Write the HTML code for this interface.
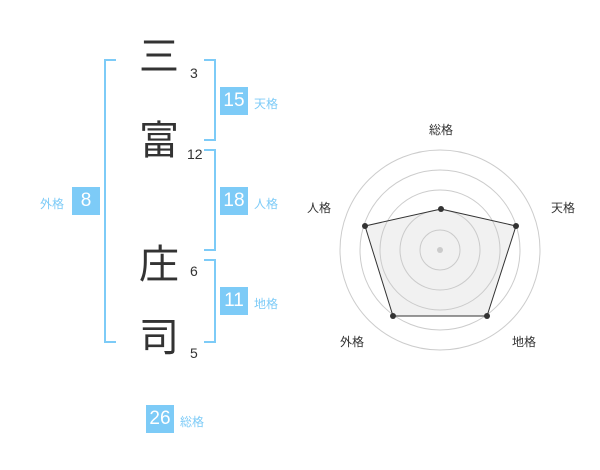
<!DOCTYPE html><html><head><meta charset="utf-8"><style>
body{margin:0;width:600px;height:470px;background:#fff;position:relative;font-family:"Liberation Sans","Noto Sans CJK JP",sans-serif;overflow:hidden}
.a{position:absolute}
.c{font-size:40px;color:#333;left:138px;width:42px;text-align:center;line-height:42px}
.n{font-size:14px;color:#333;left:187px}
.b{background:#7dcbf7;color:#fff;font-size:19px;width:28px;height:28px;line-height:28px;text-align:center}
.l{font-size:12px;color:#7dcbf7}
.br{border:2px solid #7dcbf7}
</style></head><body>
<div class="a c" style="top:36px">三</div>
<div class="a c" style="top:120px">富</div>
<div class="a c" style="top:244px">庄</div>
<div class="a c" style="top:317px">司</div>
<div class="a n" style="top:65px;left:190px">3</div>
<div class="a n" style="top:146px">12</div>
<div class="a n" style="top:263px;left:190px">6</div>
<div class="a n" style="top:345px;left:190px">5</div>
<div class="a br" style="left:104px;top:59px;width:10px;height:280px;border-right:none"></div>
<div class="a br" style="left:204px;top:59px;width:10px;height:78px;border-left:none"></div>
<div class="a br" style="left:204px;top:149px;width:10px;height:98px;border-left:none"></div>
<div class="a br" style="left:204px;top:259px;width:10px;height:80px;border-left:none"></div>
<div class="a b" style="left:220px;top:87px">15</div><div class="a l" style="left:254px;top:95px">天格</div>
<div class="a b" style="left:220px;top:187px">18</div><div class="a l" style="left:254px;top:195px">人格</div>
<div class="a b" style="left:220px;top:287px">11</div><div class="a l" style="left:254px;top:295px">地格</div>
<div class="a b" style="left:72px;top:187px">8</div><div class="a l" style="left:40px;top:195px">外格</div>
<div class="a b" style="left:146px;top:405px">26</div><div class="a l" style="left:180px;top:413px">総格</div>
<svg class="a" style="left:0;top:0" width="600" height="470">
<g fill="none" stroke="#ccc" stroke-width="1">
<circle cx="440" cy="250" r="20"/><circle cx="440" cy="250" r="40"/><circle cx="440" cy="250" r="60"/><circle cx="440" cy="250" r="80"/><circle cx="440" cy="250" r="100"/></g>
<circle cx="440" cy="250" r="3" fill="#ccc"/>
<polygon points="441,209 516,226 487,316 393,316 365,226" fill="rgba(200,200,200,0.25)" stroke="#333" stroke-width="1"/>
<g fill="#333"><circle cx="441" cy="209" r="3"/><circle cx="516" cy="226" r="3"/><circle cx="487" cy="316" r="3"/><circle cx="393" cy="316" r="3"/><circle cx="365" cy="226" r="3"/></g>
<g font-size="12" fill="#333" text-anchor="middle" font-family="Liberation Sans,Noto Sans CJK JP,sans-serif">
<text x="441" y="134">総格</text><text x="563" y="212">天格</text><text x="524" y="346">地格</text><text x="352" y="346">外格</text><text x="319" y="212">人格</text></g>
</svg>
</body></html>
